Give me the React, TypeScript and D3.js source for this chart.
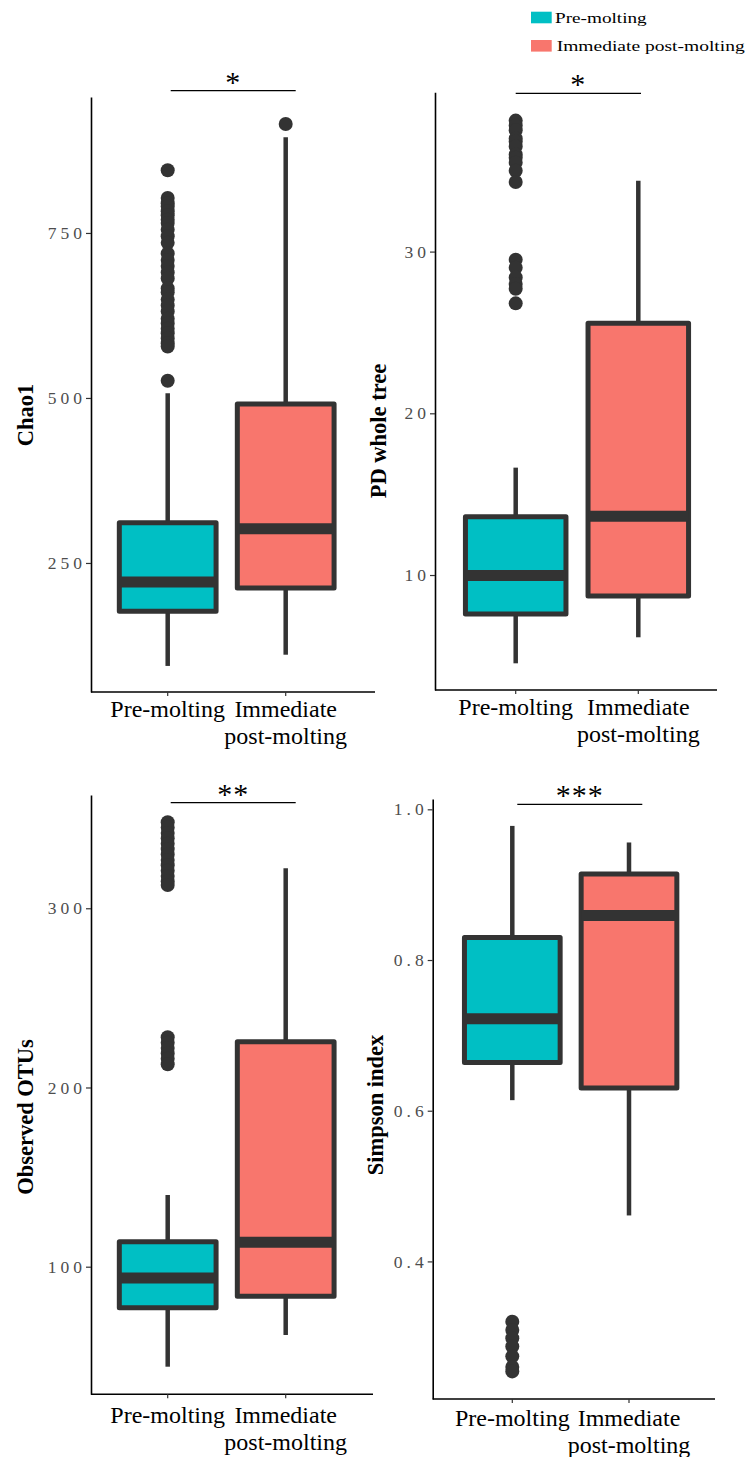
import React, { useRef, useEffect } from 'react';
import * as d3 from 'd3';

const groups = ['Pre-molting', 'Immediate post-molting'];
const groupLabels = [['Pre-molting'], ['Immediate', 'post-molting']];
const fills = ['#00BFC4', '#F8766D'];

// box stats per group: [lower whisker, q1, median, q3, upper whisker]
const chao1Box = [
	[94, 177, 221, 311, 507],
	[111, 212, 302, 491, 895],
];
const chao1Outliers = [
	[845, 803, 795, 790, 783, 777, 770, 765, 755, 745, 735, 719, 709, 700, 690, 681, 666, 660, 649, 640, 631, 620, 613, 605, 598, 590, 583, 578, 526],
	[915],
];
const chao1Ticks = [250, 500, 750];

const pdBox = [
	[4.54, 7.59, 9.97, 13.6, 16.64],
	[6.15, 8.7, 13.63, 25.57, 34.38],
];
const pdOutliers = [
	[38.1, 37.8, 37.5, 37.0, 36.8, 36.5, 36.0, 35.8, 35.5, 35.0, 34.3, 29.5, 29.0, 28.4, 28.0, 27.7, 26.8],
	[],
];
const pdTicks = [10, 20, 30];

const otuBox = [
	[44.2, 77.1, 93.7, 113.9, 140],
	[61.9, 83.5, 113.7, 225.5, 322.3],
];
const otuOutliers = [
	[348, 345, 342, 339, 336, 333, 330, 327, 324, 321, 318, 315, 313, 228, 225, 222, 219, 216, 213],
	[],
];
const otuTicks = [100, 200, 300];

const simpsonBox = [
	[0.614, 0.664, 0.722, 0.83, 0.978],
	[0.461, 0.63, 0.859, 0.914, 0.956],
];
const simpsonOutliers = [
	[0.32, 0.309, 0.298, 0.287, 0.274, 0.26, 0.254],
	[],
];
const simpsonTicks = [0.4, 0.6, 0.8, 1.0];

const serif = "'Liberation Serif', 'Times New Roman', serif";
const dark = '#333333';

// layout of each panel (pixel frame) kept apart from the data
const panels = [
	{
		title: 'Chao1', box: chao1Box, outliers: chao1Outliers, ticks: chao1Ticks, fmt: d3.format('d'),
		yDomain: [54.5, 956], left: 91, top: 97, bottom: 692, right: 375, xRange: [167.7, 285.7],
		sig: '*', sigY: 90.7, sigX: [170.7, 295.7], titleX: 33, titleY: 415, labelDy: 25,
	},
	{
		title: 'PD whole tree', box: pdBox, outliers: pdOutliers, ticks: pdTicks, fmt: d3.format('d'),
		yDomain: [2.89, 39.85], left: 435, top: 92.3, bottom: 690, right: 717, xRange: [515.7, 638.3],
		sig: '*', sigY: 93.3, sigX: [515.7, 641], titleX: 386, titleY: 431, labelDy: 25,
	},
	{
		title: 'Observed OTUs', box: otuBox, outliers: otuOutliers, ticks: otuTicks, fmt: d3.format('d'),
		yDomain: [28.8, 363.2], left: 91, top: 795, bottom: 1394.3, right: 373, xRange: [167.7, 285.7],
		sig: '**', sigY: 802.7, sigX: [170.7, 295.7], titleX: 33, titleY: 1117, labelDy: 29,
	},
	{
		title: 'Simpson index', box: simpsonBox, outliers: simpsonOutliers, ticks: simpsonTicks, fmt: d3.format('.1f'),
		yDomain: [0.2174, 1.0137], left: 432.7, top: 799, bottom: 1399, right: 715, xRange: [512.3, 629],
		sig: '***', sigY: 804.3, sigX: [517.3, 642.3], titleX: 383, titleY: 1105, labelDy: 27,
	},
];

function App() {
	const svgRef = useRef(null);

	useEffect(() => {
		const svg = d3.select(svgRef.current);
		svg.selectAll('*').remove();

		panels.forEach((p) => {
			const g = svg.append('g');
			const y = d3.scaleLinear().domain(p.yDomain).range([p.bottom, p.top]);
			const x = d3.scalePoint().domain(groups).range(p.xRange);
			const step = p.xRange[1] - p.xRange[0];
			const bw = step * 0.82;

			// y axis
			const yAxis = g
				.append('g')
				.attr('transform', `translate(${p.left},0)`)
				.call(d3.axisLeft(y).tickValues(p.ticks).tickSize(5).tickSizeOuter(0).tickPadding(0).tickFormat(p.fmt));
			yAxis.select('.domain').attr('stroke', '#000').attr('stroke-width', 1.6);
			yAxis.selectAll('.tick line').attr('stroke', dark).attr('stroke-width', 1.2);
			yAxis
				.selectAll('.tick text')
				.attr('fill', '#4d4d4d')
				.style('font-family', serif)
				.style('font-size', '17.5px')
				.style('letter-spacing', '4px');

			// x axis
			g.append('line')
				.attr('x1', p.left)
				.attr('x2', p.right)
				.attr('y1', p.bottom)
				.attr('y2', p.bottom)
				.attr('stroke', '#000')
				.attr('stroke-width', 1.6);
			groups.forEach((grp, i) => {
				const cx = x(grp);
				g.append('line')
					.attr('x1', cx)
					.attr('x2', cx)
					.attr('y1', p.bottom)
					.attr('y2', p.bottom + 4)
					.attr('stroke', dark)
					.attr('stroke-width', 1.2);
				const t = g
					.append('text')
					.attr('text-anchor', 'middle')
					.style('font-family', serif)
					.style('font-size', '24px')
					.attr('fill', '#000');
				groupLabels[i].forEach((ln, k) => {
					t.append('tspan')
						.attr('x', cx)
						.attr('y', p.bottom + p.labelDy + k * 27)
						.text(ln);
				});
			});

			// boxes
			groups.forEach((grp, i) => {
				const cx = x(grp);
				const [lo, q1, med, q3, hi] = p.box[i];
				g.append('line')
					.attr('x1', cx).attr('x2', cx)
					.attr('y1', y(hi)).attr('y2', y(q3))
					.attr('stroke', dark).attr('stroke-width', 4.5);
				g.append('line')
					.attr('x1', cx).attr('x2', cx)
					.attr('y1', y(q1)).attr('y2', y(lo))
					.attr('stroke', dark).attr('stroke-width', 4.5);
				g.append('rect')
					.attr('x', cx - bw / 2)
					.attr('y', y(q3))
					.attr('width', bw)
					.attr('height', y(q1) - y(q3))
					.attr('fill', fills[i])
					.attr('stroke', dark)
					.attr('stroke-width', 5)
					.attr('stroke-linejoin', 'round');
				g.append('line')
					.attr('x1', cx - bw / 2).attr('x2', cx + bw / 2)
					.attr('y1', y(med)).attr('y2', y(med))
					.attr('stroke', dark).attr('stroke-width', 11);
				g.selectAll(null)
					.data(p.outliers[i])
					.join('circle')
					.attr('cx', cx)
					.attr('cy', (d) => y(d))
					.attr('r', 7)
					.attr('fill', dark);
			});

			// significance bar
			g.append('line')
				.attr('x1', p.sigX[0]).attr('x2', p.sigX[1])
				.attr('y1', p.sigY).attr('y2', p.sigY)
				.attr('stroke', '#000').attr('stroke-width', 1.2);
			g.append('text')
				.attr('x', (p.sigX[0] + p.sigX[1]) / 2)
				.attr('y', p.sigY + 1)
				.attr('text-anchor', 'middle')
				.style('font-family', serif)
				.style('font-size', '30px')
				.style('letter-spacing', '1px')
				.text(p.sig);

			// y title
			g.append('text')
				.attr('transform', `translate(${p.titleX},${p.titleY}) rotate(-90)`)
				.attr('text-anchor', 'middle')
				.style('font-family', serif)
				.style('font-size', '22.5px')
				.style('font-weight', 'bold')
				.text(p.title);
		});

		// legend
		const legendW = [91.7, 188];
		const lg = svg.append('g');
		groups.forEach((grp, i) => {
			lg.append('rect')
				.attr('x', 531)
				.attr('y', 11.7 + i * 28.3)
				.attr('width', 20.7)
				.attr('height', 11.6)
				.attr('fill', fills[i]);
			lg.append('text')
				.attr('x', 555 + i * 1.7)
				.attr('y', 23 + i * 27.7)
				.attr('textLength', legendW[i])
				.attr('lengthAdjust', 'spacingAndGlyphs')
				.style('font-family', serif)
				.style('font-size', '15.5px')
				.text(grp);
		});
	}, []);

	return (
		<svg
			ref={svgRef}
			width={747}
			height={1457}
			style={{ position: 'absolute', left: 0, top: 0, background: '#fff' }}
		/>
	);
}

export default App;
